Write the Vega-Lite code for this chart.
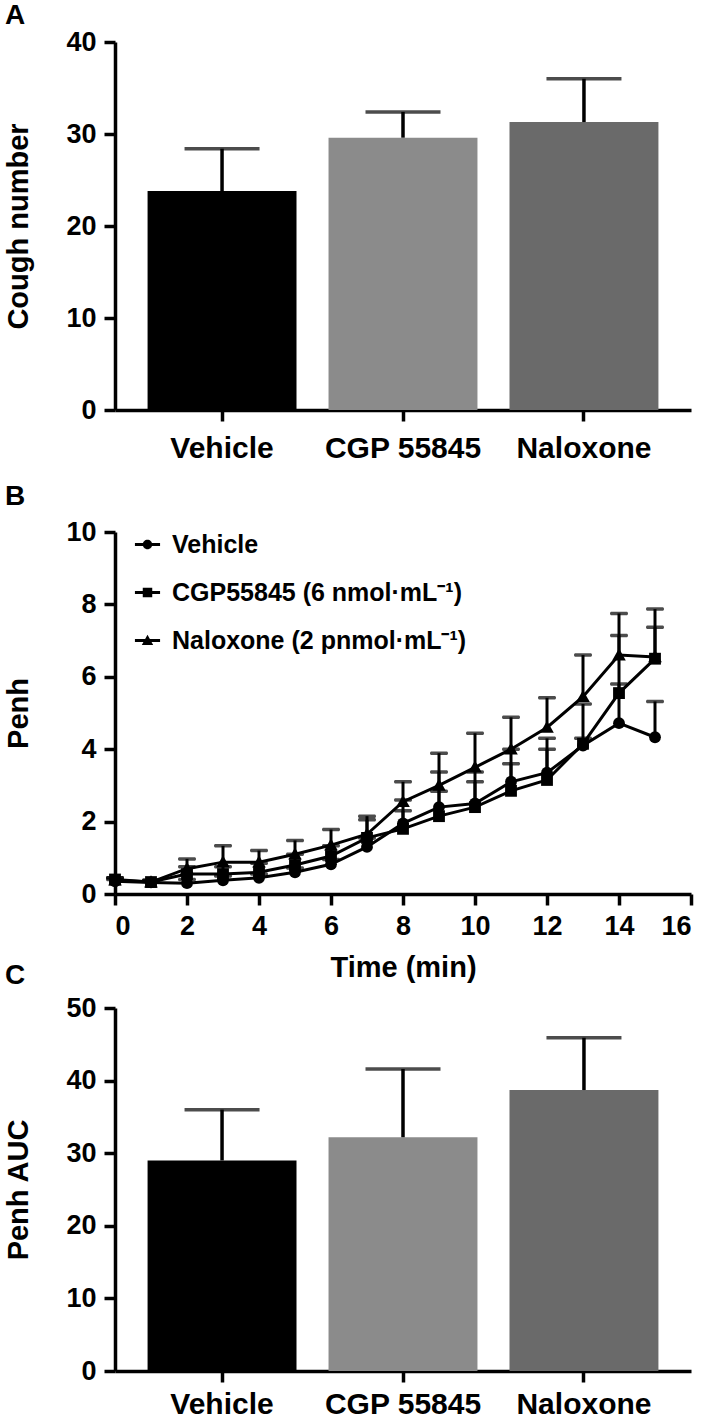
{
  "$schema": "https://vega.github.io/schema/vega-lite/v6.json",
  "padding": {"left": 4, "right": 3, "top": 2, "bottom": 0},
  "background": "white",
  "spacing": -20,
  "resolve": {"legend": {"shape": "independent"}},
  "datasets": {
    "cough": [
      {"group": "Vehicle", "mean": 23.8, "upper": 28.4},
      {"group": "CGP 55845", "mean": 29.6, "upper": 32.4},
      {"group": "Naloxone", "mean": 31.3, "upper": 36.0}
    ],
    "auc": [
      {"group": "Vehicle", "mean": 29.0, "upper": 36.0},
      {"group": "CGP 55845", "mean": 32.2, "upper": 41.6},
      {"group": "Naloxone", "mean": 38.7, "upper": 45.9}
    ],
    "penh": [
      {"t": 0, "series": "Vehicle", "mean": 0.35, "upper": 0.4},
      {"t": 1, "series": "Vehicle", "mean": 0.32, "upper": 0.36},
      {"t": 2, "series": "Vehicle", "mean": 0.3, "upper": 0.4},
      {"t": 3, "series": "Vehicle", "mean": 0.38, "upper": 0.5},
      {"t": 4, "series": "Vehicle", "mean": 0.45, "upper": 0.55},
      {"t": 5, "series": "Vehicle", "mean": 0.6, "upper": 0.72},
      {"t": 6, "series": "Vehicle", "mean": 0.82, "upper": 0.95},
      {"t": 7, "series": "Vehicle", "mean": 1.3, "upper": 1.55},
      {"t": 8, "series": "Vehicle", "mean": 1.95, "upper": 2.6},
      {"t": 9, "series": "Vehicle", "mean": 2.4, "upper": 3.37},
      {"t": 10, "series": "Vehicle", "mean": 2.5, "upper": 3.37},
      {"t": 11, "series": "Vehicle", "mean": 3.1, "upper": 4.0},
      {"t": 12, "series": "Vehicle", "mean": 3.35, "upper": 4.3},
      {"t": 13, "series": "Vehicle", "mean": 4.1, "upper": 4.3},
      {"t": 14, "series": "Vehicle", "mean": 4.72, "upper": 5.8},
      {"t": 15, "series": "Vehicle", "mean": 4.33, "upper": 5.32},
      {"t": 0, "series": "CGP55845 (6 nmol·mL⁻¹)", "mean": 0.4, "upper": 0.45},
      {"t": 1, "series": "CGP55845 (6 nmol·mL⁻¹)", "mean": 0.33, "upper": 0.38},
      {"t": 2, "series": "CGP55845 (6 nmol·mL⁻¹)", "mean": 0.55, "upper": 0.75},
      {"t": 3, "series": "CGP55845 (6 nmol·mL⁻¹)", "mean": 0.55, "upper": 0.75},
      {"t": 4, "series": "CGP55845 (6 nmol·mL⁻¹)", "mean": 0.6, "upper": 0.85},
      {"t": 5, "series": "CGP55845 (6 nmol·mL⁻¹)", "mean": 0.8, "upper": 1.1},
      {"t": 6, "series": "CGP55845 (6 nmol·mL⁻¹)", "mean": 1.05, "upper": 1.33},
      {"t": 7, "series": "CGP55845 (6 nmol·mL⁻¹)", "mean": 1.55, "upper": 2.05},
      {"t": 8, "series": "CGP55845 (6 nmol·mL⁻¹)", "mean": 1.8, "upper": 2.3},
      {"t": 9, "series": "CGP55845 (6 nmol·mL⁻¹)", "mean": 2.15, "upper": 2.84},
      {"t": 10, "series": "CGP55845 (6 nmol·mL⁻¹)", "mean": 2.4, "upper": 3.1},
      {"t": 11, "series": "CGP55845 (6 nmol·mL⁻¹)", "mean": 2.85, "upper": 3.6},
      {"t": 12, "series": "CGP55845 (6 nmol·mL⁻¹)", "mean": 3.15, "upper": 4.0},
      {"t": 13, "series": "CGP55845 (6 nmol·mL⁻¹)", "mean": 4.15, "upper": 5.25},
      {"t": 14, "series": "CGP55845 (6 nmol·mL⁻¹)", "mean": 5.55, "upper": 7.14},
      {"t": 15, "series": "CGP55845 (6 nmol·mL⁻¹)", "mean": 6.5, "upper": 7.37},
      {"t": 0, "series": "Naloxone (2 pnmol·mL⁻¹)", "mean": 0.38, "upper": 0.45},
      {"t": 1, "series": "Naloxone (2 pnmol·mL⁻¹)", "mean": 0.33, "upper": 0.38},
      {"t": 2, "series": "Naloxone (2 pnmol·mL⁻¹)", "mean": 0.7, "upper": 0.97},
      {"t": 3, "series": "Naloxone (2 pnmol·mL⁻¹)", "mean": 0.88, "upper": 1.33},
      {"t": 4, "series": "Naloxone (2 pnmol·mL⁻¹)", "mean": 0.88, "upper": 1.2},
      {"t": 5, "series": "Naloxone (2 pnmol·mL⁻¹)", "mean": 1.1, "upper": 1.48},
      {"t": 6, "series": "Naloxone (2 pnmol·mL⁻¹)", "mean": 1.35, "upper": 1.78},
      {"t": 7, "series": "Naloxone (2 pnmol·mL⁻¹)", "mean": 1.65, "upper": 2.15},
      {"t": 8, "series": "Naloxone (2 pnmol·mL⁻¹)", "mean": 2.55, "upper": 3.1},
      {"t": 9, "series": "Naloxone (2 pnmol·mL⁻¹)", "mean": 3.0, "upper": 3.89},
      {"t": 10, "series": "Naloxone (2 pnmol·mL⁻¹)", "mean": 3.5, "upper": 4.44},
      {"t": 11, "series": "Naloxone (2 pnmol·mL⁻¹)", "mean": 4.0, "upper": 4.88},
      {"t": 12, "series": "Naloxone (2 pnmol·mL⁻¹)", "mean": 4.6, "upper": 5.42},
      {"t": 13, "series": "Naloxone (2 pnmol·mL⁻¹)", "mean": 5.45, "upper": 6.6},
      {"t": 14, "series": "Naloxone (2 pnmol·mL⁻¹)", "mean": 6.6, "upper": 7.75},
      {"t": 15, "series": "Naloxone (2 pnmol·mL⁻¹)", "mean": 6.55, "upper": 7.87}
    ]
  },
  "vconcat": [
    {
      "spacing": 20,
      "resolve": {"legend": {"shape": "independent"}},
      "vconcat": [
        {
          "title": {"text": "A", "offset": -2},
          "width": 576,
          "height": 368,
          "data": {"name": "cough"},
          "encoding": {
            "x": {
              "field": "group", "type": "nominal", "sort": null,
              "scale": {"paddingInner": 0.177, "paddingOuter": 0.18},
              "axis": {"title": null, "labelAngle": 0, "labelFontSize": 30, "labelPadding": 12}
            }
          },
          "layer": [
            {
              "mark": {"type": "bar"},
              "encoding": {
                "y": {"field": "mean", "type": "quantitative", "scale": {"domain": [0, 40], "nice": false},
                      "axis": {"title": "Cough number", "values": [0, 10, 20, 30, 40]}},
                "color": {"field": "group", "type": "nominal", "legend": null,
                          "scale": {"domain": ["Vehicle", "CGP 55845", "Naloxone"], "range": ["#000000", "#8b8b8b", "#6a6a6a"]}}
              }
            },
            {
              "mark": {"type": "rule", "color": "black", "strokeWidth": 3.5},
              "encoding": {"y": {"field": "mean", "type": "quantitative"}, "y2": {"field": "upper"}}
            },
            {
              "mark": {"type": "tick", "color": "black", "orient": "horizontal", "size": 75, "thickness": 3.5},
              "encoding": {"y": {"field": "upper", "type": "quantitative"}}
            }
          ]
        },
        {
          "title": {"text": "B", "offset": 7},
          "width": 576,
          "height": 362,
          "data": {"name": "penh"},
          "encoding": {
            "x": {"field": "t", "type": "quantitative", "scale": {"domain": [0, 16], "nice": false},
                  "axis": {"title": "Time (min)", "values": [0, 2, 4, 6, 8, 10, 12, 14, 16], "titlePadding": 14}},
            "y": {"field": "mean", "type": "quantitative", "scale": {"domain": [0, 10], "nice": false},
                  "axis": {"title": "Penh", "values": [0, 2, 4, 6, 8, 10]}}
          },
          "resolve": {"scale": {"shape": "independent"}, "legend": {"shape": "independent"}},
          "layer": [
            {
              "mark": {"type": "rule", "color": "black", "strokeWidth": 3},
              "encoding": {"y2": {"field": "upper"}}
            },
            {
              "mark": {"type": "tick", "color": "black", "orient": "horizontal", "size": 18, "thickness": 3.5, "cornerRadius": 1.5},
              "encoding": {"y": {"field": "upper", "type": "quantitative"}}
            },
            {
              "mark": {"type": "line", "color": "black", "strokeWidth": 3},
              "encoding": {"detail": {"field": "series", "type": "nominal"}}
            },
            {
              "mark": {"type": "point", "filled": true, "color": "black", "opacity": 1, "size": 140},
              "encoding": {
                "shape": {
                  "field": "series", "type": "nominal", "legend": null,
                  "scale": {
                    "domain": ["Vehicle", "CGP55845 (6 nmol·mL⁻¹)", "Naloxone (2 pnmol·mL⁻¹)"],
                    "range": ["circle", "square", "M0,-1.15L1.15,0.9H-1.15Z"]
                  }
                }
              }
            },
            {
              "transform": [{"filter": "false"}],
              "mark": {"type": "point", "filled": true, "color": "black", "opacity": 1, "size": 90},
              "encoding": {
                "shape": {
                  "field": "series", "type": "nominal",
                  "scale": {
                    "domain": ["Vehicle", "CGP55845 (6 nmol·mL⁻¹)", "Naloxone (2 pnmol·mL⁻¹)"],
                    "range": [
                      "M-2.65,-0.32H2.65V0.32H-2.65ZM1,0A1,1,0,1,1,-1,0A1,1,0,1,1,1,0Z",
                      "M-2.65,-0.32H2.65V0.32H-2.65ZM-1,-1H1V1H-1Z",
                      "M-2.65,-0.32H2.65V0.32H-2.65ZM0,-1.2L1.2,0.95H-1.2Z"
                    ]
                  },
                  "legend": {
                    "title": null,
                    "orient": "none",
                    "legendX": 20,
                    "legendY": 0,
                    "labelFontSize": 25,
                    "labelFontWeight": "bold",
                    "labelFont": "Liberation Sans",
                    "labelColor": "black",
                    "labelOffset": 12,
                    "rowPadding": 22,
                    "symbolSize": 90,
                    "symbolFillColor": "black",
                    "symbolStrokeWidth": 0,
                    "symbolOpacity": 1,
                    "labelLimit": 400
                  }
                }
              }
            }
          ]
        }
      ]
    },
    {
      "title": {"text": "C", "offset": 4},
      "width": 576,
      "height": 363,
      "data": {"name": "auc"},
      "encoding": {
        "x": {
          "field": "group", "type": "nominal", "sort": null,
          "scale": {"paddingInner": 0.177, "paddingOuter": 0.18},
          "axis": {"title": null, "labelAngle": 0, "labelFontSize": 30, "labelPadding": 7}
        }
      },
      "layer": [
        {
          "mark": {"type": "bar"},
          "encoding": {
            "y": {"field": "mean", "type": "quantitative", "scale": {"domain": [0, 50], "nice": false},
                  "axis": {"title": "Penh AUC", "values": [0, 10, 20, 30, 40, 50]}},
            "color": {"field": "group", "type": "nominal", "legend": null,
                      "scale": {"domain": ["Vehicle", "CGP 55845", "Naloxone"], "range": ["#000000", "#8b8b8b", "#6a6a6a"]}}
          }
        },
        {
          "mark": {"type": "rule", "color": "black", "strokeWidth": 3.5},
          "encoding": {"y": {"field": "mean", "type": "quantitative"}, "y2": {"field": "upper"}}
        },
        {
          "mark": {"type": "tick", "color": "black", "orient": "horizontal", "size": 75, "thickness": 3.5},
          "encoding": {"y": {"field": "upper", "type": "quantitative"}}
        }
      ]
    }
  ],
  "config": {
    "font": "Liberation Sans",
    "view": {"stroke": null},
    "title": {"anchor": "start", "frame": "bounds", "fontSize": 28, "fontWeight": "bold", "font": "Liberation Sans", "color": "black"},
    "axis": {
      "grid": false,
      "domainColor": "black",
      "domainWidth": 3.5,
      "tickColor": "black",
      "tickWidth": 3.5,
      "tickSize": 11,
      "labelFont": "Liberation Sans",
      "labelFontWeight": "bold",
      "labelFontSize": 27,
      "labelColor": "black",
      "labelPadding": 8,
      "titleFont": "Liberation Sans",
      "titleFontWeight": "bold",
      "titleFontSize": 29,
      "titleColor": "black",
      "titlePadding": 32
    }
  }
}
